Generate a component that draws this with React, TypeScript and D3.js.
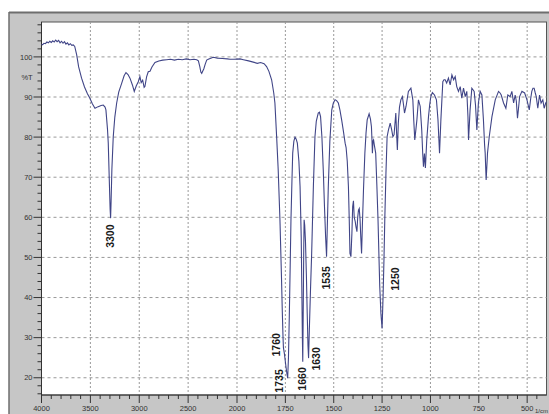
import React from "react";
import * as d3 from "d3";

// IR spectrum, wavenumber (1/cm) vs %T
const spectrum: [number, number][] = [
  [4000, 103.2], [3990, 103.0], [3975, 103.4], [3960, 103.3], [3945, 103.7], [3930, 103.5],
  [3915, 103.9], [3900, 103.6], [3885, 104.0], [3870, 103.7], [3855, 104.2], [3840, 103.8],
  [3825, 104.1], [3810, 103.5], [3795, 103.9], [3780, 103.4], [3765, 103.8], [3750, 103.2],
  [3735, 103.5], [3720, 103.0], [3705, 103.3], [3690, 102.9], [3675, 103.0], [3660, 102.6],
  [3640, 100.5], [3620, 97.5], [3590, 94.7], [3560, 92.5], [3530, 90.8], [3505, 89.7],
  [3480, 88.3], [3453, 87.2], [3420, 87.6], [3390, 87.9], [3368, 88.0], [3350, 87.5],
  [3341, 86.8], [3325, 82], [3317, 78.5], [3305, 68], [3298, 62], [3293, 59.8], [3288, 64],
  [3280, 72], [3266, 80.1], [3250, 85], [3231, 88.5], [3210, 91.2], [3180, 93.4], [3155, 95.3],
  [3136, 96.1], [3115, 95.6], [3095, 94.7], [3070, 93], [3051, 91.4], [3030, 92.8], [3010, 93.8],
  [2993, 95.1], [2980, 93.6], [2965, 94.2], [2950, 92.4], [2942, 92.6], [2925, 95], [2908, 96.3],
  [2890, 96.4], [2870, 97.5], [2839, 98.6], [2800, 99.0], [2760, 99.2], [2720, 99.3], [2680, 99.4],
  [2640, 99.2], [2600, 99.4], [2560, 99.3], [2520, 99.5], [2480, 99.3], [2440, 99.4], [2412, 99.3],
  [2395, 99.0], [2380, 97.5], [2370, 96.2], [2361, 95.9], [2350, 96.5], [2340, 97.0], [2325, 98.2],
  [2310, 99.2], [2294, 99.4], [2243, 99.9], [2200, 99.7], [2150, 99.6], [2100, 99.5], [2072, 99.4],
  [2030, 99.4], [1984, 99.5], [1967, 99.3], [1940, 99.0], [1916, 98.7], [1895, 98.4], [1878, 98.6],
  [1860, 98.3], [1847, 97.6], [1835, 96.4], [1821, 94.3], [1810, 91], [1804, 88.5], [1795, 80],
  [1787, 71.8], [1778, 59.4], [1770, 45], [1766, 36.9], [1762, 30], [1760, 27.5], [1755, 26],
  [1750, 24], [1747, 22.8], [1742, 21], [1738, 19.9], [1734, 25], [1730, 34.4], [1725, 48],
  [1721, 59.4], [1716, 69], [1712, 76], [1706, 79], [1700, 80], [1694, 79.5], [1688, 78.5],
  [1680, 74], [1674, 67.7], [1668, 55], [1665, 42.7], [1662, 30], [1660, 24.0], [1657, 40],
  [1655, 52], [1653, 59.4], [1650, 58], [1646, 54], [1641, 45], [1637, 36], [1633, 28],
  [1630, 24.9], [1626, 32], [1620, 42], [1614, 51], [1605, 68], [1597, 80.1], [1590, 84],
  [1580, 86], [1574, 86.2], [1568, 85.1], [1561, 80], [1554, 71.8], [1548, 63], [1542, 55.2],
  [1537, 50.2], [1533, 58], [1528, 67.7], [1520, 79], [1510, 86.8], [1502, 88.5], [1493, 89.3],
  [1485, 89.1], [1476, 88.5], [1468, 86.8], [1459, 84.3], [1450, 81.5], [1441, 78.5], [1436, 77.4],
  [1430, 74], [1424, 67.7], [1420, 60], [1416, 51], [1411, 50.2], [1406, 56], [1402, 62.7],
  [1398, 64.1], [1394, 60], [1389, 59], [1385, 57.7], [1380, 56.4], [1376, 60], [1372, 61.8],
  [1368, 62.2], [1364, 59.6], [1360, 55], [1356, 51], [1352, 57.7], [1346, 67], [1339, 76],
  [1333, 81], [1327, 84.3], [1317, 85.8], [1310, 84.5], [1305, 82.6], [1302, 79], [1300, 76],
  [1297, 79], [1294, 79.3], [1290, 78], [1283, 76], [1277, 68], [1271, 59.4], [1266, 50],
  [1262, 42.7], [1256, 36], [1250, 32.3], [1245, 40], [1240, 50], [1236, 59.4], [1230, 71],
  [1224, 80.1], [1217, 81.8], [1208, 83.5], [1201, 82], [1194, 80.1], [1188, 80.6], [1179, 86],
  [1175, 81], [1171, 76.8], [1166, 83.5], [1160, 87.5], [1153, 89.3], [1145, 90.1], [1139, 88],
  [1134, 86], [1126, 87.7], [1114, 91.4], [1101, 92.2], [1091, 89.3], [1086, 84], [1081, 79.3],
  [1075, 82], [1070, 84.3], [1062, 89.3], [1053, 87.7], [1045, 81.8], [1040, 76], [1036, 72.6],
  [1031, 75.9], [1026, 72.3], [1019, 79.3], [1010, 85.1], [1004, 88], [998, 90.1], [990, 91.1],
  [979, 90.5], [969, 89.3], [961, 84.3], [953, 76], [946, 84.3], [936, 93.8], [930, 94.3],
  [924, 94.3], [916, 93.5], [907, 94.7], [898, 93], [889, 95.5], [880, 94.3], [872, 95.1],
  [864, 92.6], [855, 91.4], [846, 92.6], [838, 89.7], [829, 92.2], [820, 90.1], [812, 91.4],
  [806, 85], [803, 79.3], [799, 83], [795, 86.8], [786, 92.2], [780, 91.8], [774, 91.4],
  [767, 88], [760, 81.8], [752, 88.5], [743, 91.4], [734, 90.5], [726, 84.3], [720, 78],
  [717, 76], [712, 69.3], [707, 74], [705, 76], [696, 80.1], [682, 85.1], [665, 89.3],
  [648, 91.4], [640, 91], [634, 90.5], [622, 88.5], [610, 87.2], [600, 90.5], [594, 90.3],
  [588, 90.1], [579, 91.4], [570, 88.5], [562, 90.5], [556, 89], [550, 84.7], [545, 87],
  [539, 90.1], [527, 91.4], [513, 91], [501, 89.3], [489, 86.8], [482, 89.5], [476, 91.4],
  [470, 92.2], [464, 92.2], [458, 91], [453, 90.1], [445, 87.2], [436, 90.5], [428, 88.5],
  [419, 89.3], [412, 87.2], [404, 88.5], [400, 88.8],
];

// peak labels: text, label centre (wavenumber, %T)
const peakLabels: { text: string; wn: number; t: number }[] = [
  { text: "3300", wn: 3300, t: 55.3 },
  { text: "1760", wn: 1795, t: 28.2 },
  { text: "1735", wn: 1783, t: 19.2 },
  { text: "1660", wn: 1664, t: 19.7 },
  { text: "1630", wn: 1591, t: 24.7 },
  { text: "1535", wn: 1540, t: 44.9 },
  { text: "1250", wn: 1183, t: 44.6 },
];

const xTicks = [4000, 3500, 3000, 2500, 2000, 1750, 1500, 1250, 1000, 750, 500];
const yTicks = [20, 30, 40, 50, 60, 70, 80, 90, 100];

const W = 549;
const H = 414;
const plot = { left: 41.5, right: 546.5, top: 22, bottom: 395 };

const App = () => {
  // the axis is expanded 2x below 2000 1/cm
  const xBreak = plot.left + 195.5;
  const x = d3.scaleLinear().domain([4000, 2000, 400]).range([plot.left, xBreak, plot.right]);
  const y = d3.scaleLinear().domain([15.7, 108.7]).range([plot.bottom, plot.top]);

  const line = d3
    .line<[number, number]>()
    .x((d) => x(d[0]))
    .y((d) => y(d[1]));

  const xMinor = [...d3.range(4000, 2000, -100), ...d3.range(2000, 400, -50)].filter(
    (v) => !xTicks.includes(v)
  );
  const yMinor = d3.range(16, 109, 2).filter((v) => !yTicks.includes(v));
  const axisFont = "'Liberation Sans', Arial, sans-serif";

  return (
    <svg
      width={W}
      height={H}
      style={{ position: "absolute", left: 0, top: 0, background: "#fff" }}
    >
      {/* gray frame */}
      <rect x={9} y={12} width={W - 9} height={H - 12} fill="#c6c6c6" />
      <line x1={9} x2={W} y1={12.5} y2={12.5} stroke="#6e6e6e" strokeWidth={2} />
      <line x1={9} x2={9} y1={12} y2={H} stroke="#6e6e6e" strokeWidth={1.5} />
      <rect
        x={plot.left}
        y={plot.top}
        width={plot.right - plot.left}
        height={plot.bottom - plot.top}
        fill="#fff"
        stroke="#555"
        strokeWidth={1}
      />

      {/* grid */}
      {xTicks.slice(1).map((v) => (
        <line
          key={"gx" + v}
          x1={x(v)}
          x2={x(v)}
          y1={plot.top}
          y2={plot.bottom}
          stroke="#999"
          strokeWidth={1}
          strokeDasharray="2,2"
        />
      ))}
      {yTicks.map((v) => (
        <line
          key={"gy" + v}
          x1={plot.left}
          x2={plot.right}
          y1={y(v)}
          y2={y(v)}
          stroke="#999"
          strokeWidth={1}
          strokeDasharray="3,3"
        />
      ))}

      {/* y axis */}
      <line x1={plot.left} x2={plot.left} y1={plot.top} y2={plot.bottom} stroke="#333" />
      {yTicks.map((v) => (
        <g key={"yt" + v}>
          <line x1={plot.left - 8} x2={plot.left} y1={y(v)} y2={y(v)} stroke="#333" />
          <text
            x={plot.left - 9}
            y={y(v)}
            dy="0.35em"
            textAnchor="end"
            fontSize={7.5}
            fontFamily={axisFont}
            fill="#333"
          >
            {v}
          </text>
        </g>
      ))}
      {yMinor.map((v) => (
        <line key={"ym" + v} x1={plot.left - 4} x2={plot.left} y1={y(v)} y2={y(v)} stroke="#333" />
      ))}
      <text x={27} y={77} dy="0.35em" textAnchor="middle" fontSize={7.5} fontFamily={axisFont} fill="#333">
        %T
      </text>

      {/* x axis */}
      <line x1={plot.left} x2={plot.right} y1={plot.bottom} y2={plot.bottom} stroke="#333" />
      {xTicks.map((v) => (
        <g key={"xt" + v}>
          <line x1={x(v)} x2={x(v)} y1={plot.bottom} y2={plot.bottom + 8} stroke="#333" />
          <text
            x={x(v)}
            y={411}
            textAnchor="middle"
            fontSize={7.5}
            fontFamily={axisFont}
            fill="#333"
          >
            {v}
          </text>
        </g>
      ))}
      {xMinor.map((v) => (
        <line key={"xm" + v} x1={x(v)} x2={x(v)} y1={plot.bottom} y2={plot.bottom + 4} stroke="#333" />
      ))}
      <text x={548} y={413} textAnchor="end" fontSize={6} fontFamily={axisFont} fill="#333">
        1/cm
      </text>

      {/* spectrum */}
      <path d={line(spectrum) ?? ""} fill="none" stroke="#404587" strokeWidth={1.1} />

      {/* peak labels */}
      {peakLabels.map((p) => (
        <text
          key={p.text}
          transform={`translate(${x(p.wn)},${y(p.t)}) rotate(-90)`}
          textAnchor="middle"
          dy="0.35em"
          fontSize={10.5}
          fontWeight="bold"
          fontFamily="'Liberation Sans', Arial, sans-serif"
          fill="#1a1a1a"
        >
          {p.text}
        </text>
      ))}
    </svg>
  );
};

export default App;
